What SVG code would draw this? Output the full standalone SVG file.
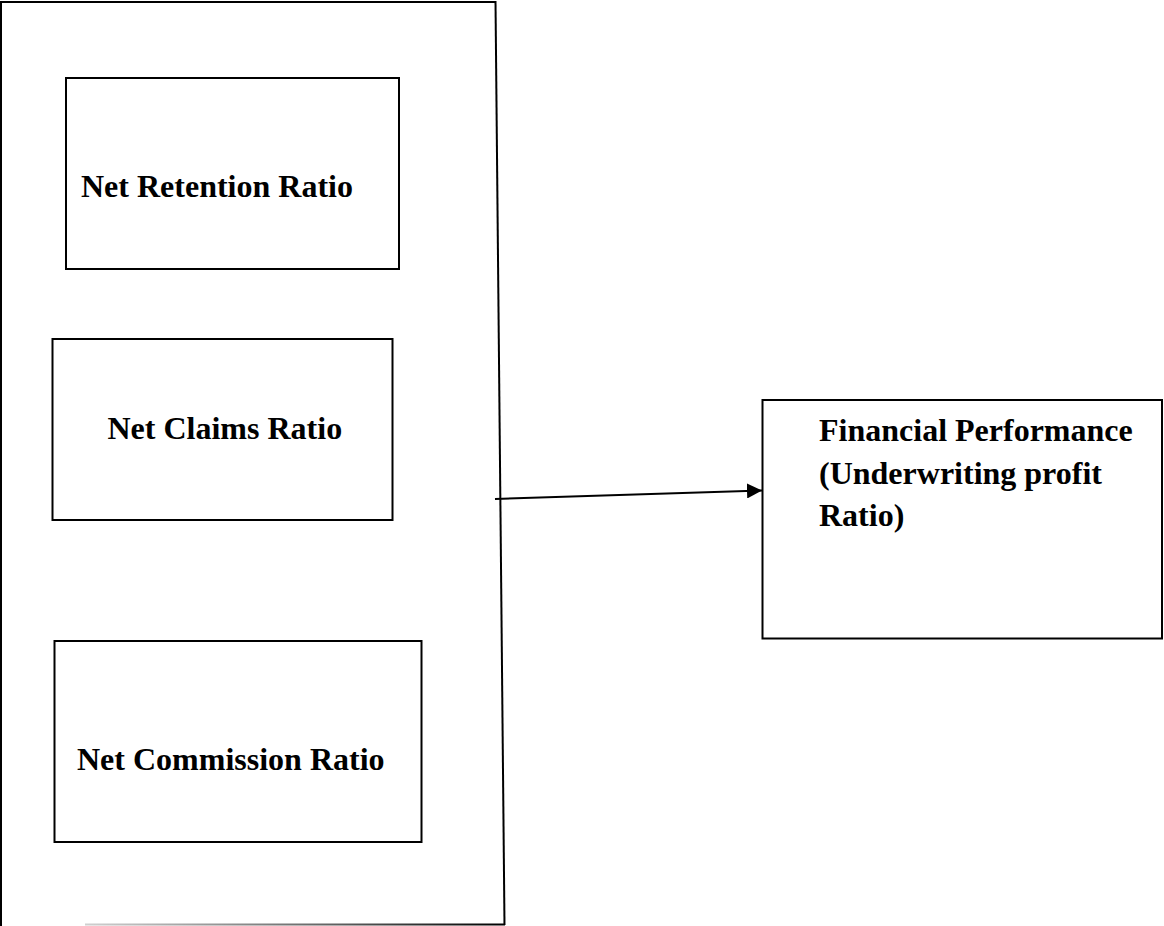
<svg xmlns="http://www.w3.org/2000/svg" width="1164" height="926" viewBox="0 0 1164 926">
  <style>
    .box { fill: none; stroke: #000; stroke-width: 2; }
    .lbl { font-family: "Liberation Serif", "Times New Roman", serif; font-weight: bold; font-size: 32px; fill: #000; }
    .edge { stroke: #000; stroke-width: 2; fill: none; }
  </style>
  <defs>
    <marker id="arrow" viewBox="0 0 10 10" refX="10" refY="5" markerWidth="15" markerHeight="15" markerUnits="userSpaceOnUse" orient="auto">
      <path d="M0,0 L10,5 L0,10 Z" fill="#000"/>
    </marker>
    <linearGradient id="fade" x1="85" y1="0" x2="504" y2="0" gradientUnits="userSpaceOnUse">
      <stop offset="0" stop-color="#d0d0d0"/>
      <stop offset="0.6" stop-color="#606060"/>
      <stop offset="1" stop-color="#000"/>
    </linearGradient>
  </defs>
  <rect width="1164" height="926" fill="#fff"/>

  <g id="container">
    <line x1="1" y1="2" x2="1" y2="926" class="edge"/>
    <line x1="0" y1="2" x2="496" y2="2" class="edge"/>
    <line x1="495.5" y1="1" x2="504.5" y2="925" class="edge"/>
    <line x1="85" y1="924.5" x2="505" y2="924.5" stroke="url(#fade)" stroke-width="2"/>
  </g>

  <g id="net-retention">
    <rect x="66" y="78" width="333" height="191" class="box"/>
    <text x="81" y="197" class="lbl">Net Retention Ratio</text>
  </g>

  <g id="net-claims">
    <rect x="52.5" y="339" width="340" height="181" class="box"/>
    <text x="107.5" y="439" class="lbl">Net Claims Ratio</text>
  </g>

  <g id="net-commission">
    <rect x="54.5" y="641" width="367" height="201" class="box"/>
    <text x="77" y="770" class="lbl">Net Commission Ratio</text>
  </g>

  <g id="financial-performance">
    <rect x="762.5" y="400" width="399.5" height="238.5" class="box"/>
    <text class="lbl">
      <tspan x="819" y="441">Financial Performance</tspan>
      <tspan x="819" y="484">(Underwriting profit</tspan>
      <tspan x="819" y="526">Ratio)</tspan>
    </text>
  </g>

  <g id="connectors">
    <line x1="495" y1="499" x2="762" y2="490.5" class="edge" marker-end="url(#arrow)"/>
  </g>
</svg>
